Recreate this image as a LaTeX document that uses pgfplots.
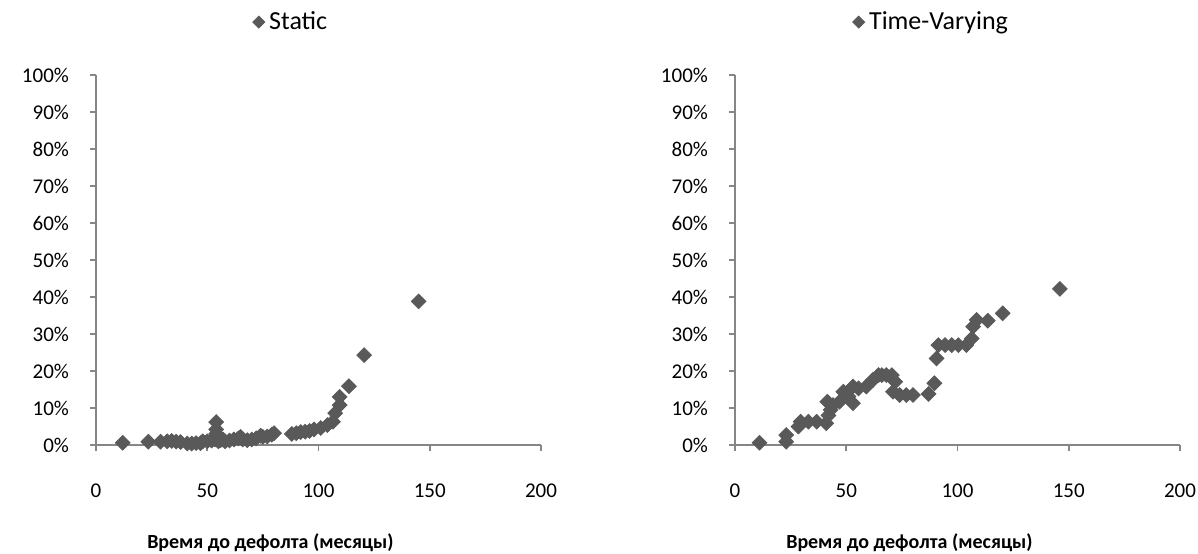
\documentclass[border=0pt]{standalone}
\usepackage{fontspec}
\setmainfont{Carlito}
\usepackage{pgfplots}
\pgfplotsset{compat=1.18}
\definecolor{mk}{RGB}{89,89,89}
\definecolor{ax}{RGB}{134,134,134}
\pgfplotsset{
  myaxis/.style={
    scale only axis, width=222.5pt, height=185pt,
    xmin=0, xmax=200, ymin=0, ymax=100,
    axis x line*=bottom, axis y line*=left,
    axis line style={ax, line width=0.8pt},
    xtick={0,50,...,200}, ytick={0,10,...,100},
    tick style={ax, line width=0.8pt},
    tick align=outside, major tick length=3pt,
    font=\fontsize{10.5}{12}\selectfont,
    /pgf/number format/assume math mode=true,
    yticklabel={\pgfmathprintnumber{\tick}\%},
    yticklabel style={xshift=-7pt},
    xticklabel style={yshift=-13pt},
    xlabel={\bfseries Время до дефолта (месяцы)},
    xlabel style={yshift=-11pt, xshift=-24pt, font=\fontsize{10}{12}\selectfont},
    legend style={draw=none, fill=none, anchor=center, font=\fontsize{13}{15}\selectfont, inner sep=0pt},
    legend cell align=left,
    legend image code/.code={\fill[mk] (0.25cm,0cm) +(-3pt,0) -- +(0,3pt) -- +(3pt,0) -- +(0,-3pt) -- cycle;},
  },
  mkstyle/.style={only marks, mark=square*, mark size=2.6pt, mark options={rotate=45, fill=mk, draw=mk}, color=mk},
}
\begin{document}
\begin{tikzpicture}
\path[use as bounding box] (-48pt,-54pt) rectangle (551pt,222.5pt);
\begin{axis}[myaxis, at={(0,0)}, anchor=south west, legend style={at={(0.44,1.143)}}]
\addplot[mkstyle] coordinates {
(12,0.6) (23.5,0.9) (29,0.9) (32,1.0) (34,1.1) (36,0.9) (38,0.8) (41,0.4) (43,0.4) (45,0.5) (47,0.5) (48,1.0) (50,1.0) (52,1.2) (53.5,1.5) (54,2.0) (54,3.0) (54,4.2) (54,6.2) (55,1.0) (56,1.3) (57,1.5) (58,1.0) (60,1.2) (62,1.5) (64,1.8) (65,2.2) (66,1.5) (68,1.3) (70,1.5) (72,1.8) (74,2.5) (75,2.2) (77,2.3) (79,2.8) (80,3.2) (88,3.0) (90,3.2) (92,3.5) (94,3.6) (96,3.8) (98,4.2) (101,4.6) (104,5.4) (106.5,6.3) (107.5,8.6) (109.5,10.8) (109.5,13.0) (113.7,15.9) (120.5,24.3) (145,38.8)
};
\addlegendentry{Static}
\end{axis}
\begin{axis}[myaxis, at={(319.5pt,0)}, anchor=south west, legend style={at={(0.443,1.143)}}]
\addplot[mkstyle] coordinates {
(11,0.6) (23,0.9) (23,2.7) (28.5,5.0) (29.5,6.3) (33,6.3) (36.7,6.3) (41,5.9) (42,8.0) (43,9.5) (41.5,11.7) (44,10.8) (47,11.7) (48.7,14.4) (51,13.1) (53,15.8) (53,11.3) (55.5,15.3) (59,15.8) (62,17.6) (64.5,18.9) (66,18.9) (68,18.9) (70.5,18.9) (72,17.1) (71,14.4) (74,13.5) (77,13.5) (80,13.5) (87,13.8) (89.6,16.7) (90.6,23.4) (91.4,27) (94.4,27) (97.4,27) (100.4,27) (104,27) (106.4,28.8) (107,32) (108.6,33.8) (113.6,33.6) (120.3,35.6) (146,42.2)
};
\addlegendentry{Time-Varying}
\end{axis}
\end{tikzpicture}
\end{document}
